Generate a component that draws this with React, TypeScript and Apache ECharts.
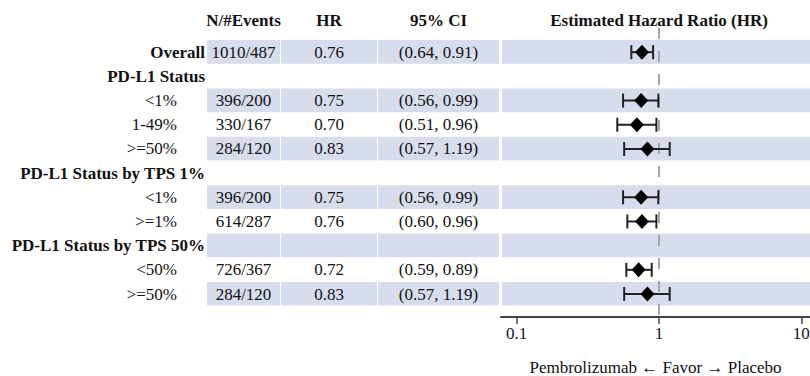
import React, { useEffect, useRef } from 'react';
import * as echarts from 'echarts';

// Forest plot rows (top to bottom)
const rowLabels = [
  'Overall',
  'PD-L1 Status',
  '<1%',
  '1-49%',
  '>=50%',
  'PD-L1 Status by TPS 1%',
  '<1%',
  '>=1%',
  'PD-L1 Status by TPS 50%',
  '<50%',
  '>=50%',
];
const rowIsGroup = [true, true, false, false, false, true, false, false, true, false, false];
const nEvents = ['1010/487', '', '396/200', '330/167', '284/120', '', '396/200', '614/287', '', '726/367', '284/120'];
const hrValues = [0.76, null, 0.75, 0.7, 0.83, null, 0.75, 0.76, null, 0.72, 0.83];
const ciLower = [0.64, null, 0.56, 0.51, 0.57, null, 0.56, 0.6, null, 0.59, 0.57];
const ciUpper = [0.91, null, 0.99, 0.96, 1.19, null, 0.99, 0.96, null, 0.89, 1.19];

const xTicks = [0.1, 1, 10];
const referenceHR = 1;
const columnHeaders = ['N/#Events', 'HR', '95% CI', 'Estimated Hazard Ratio (HR)'];
const axisTitle = 'Pembrolizumab \u2190 Favor \u2192 Placebo';

// Layout
const FONT = 'Liberation Serif';
const FS = 17;
const TABLE_W = 501;
const GRID_TOP = 28;
const GRID_H = 289;
const Y_MIN = -1;
const Y_MAX = 10.95;
const CELLS: [number, number][] = [
  [207, 280],
  [281, 377],
  [378, 499],
];
const GROUP_RIGHT = 205;
const SUB_RIGHT = 177;
const BAND = '#d7ddec';
const INK = '#111';

const fmt = (v: number) => v.toFixed(2);

export default function App() {
  const ref = useRef<HTMLDivElement>(null);

  useEffect(() => {
    if (!ref.current) return;
    const chart = echarts.init(ref.current, undefined, { renderer: 'svg' });

    const tableData = rowLabels.map((_, i) => [0, i]);
    const bandData = rowLabels.map((_, i) => [1, i]);
    const barData: number[][] = [];
    const pointData: number[][] = [];
    rowLabels.forEach((_, i) => {
      if (hrValues[i] != null) {
        barData.push([ciLower[i] as number, ciUpper[i] as number, i]);
        pointData.push([hrValues[i] as number, i]);
      }
    });

    const colMid = CELLS.map(([a, b]) => (a + b) / 2);

    const option: any = {
      animation: false,
      grid: [
        { left: 0, width: TABLE_W, top: GRID_TOP, height: GRID_H, outerBoundsMode: 'none', containLabel: false },
        { left: TABLE_W, right: 0, top: GRID_TOP, height: GRID_H, outerBoundsMode: 'none', containLabel: false },
      ],
      xAxis: [
        { type: 'value', gridIndex: 0, min: 0, max: TABLE_W, show: false },
        {
          type: 'log',
          gridIndex: 1,
          logBase: 10,
          min: 0.0778,
          max: 11.5,
          axisLine: { show: true, onZero: false, lineStyle: { color: '#444', width: 2 } },
          axisTick: { show: true, customValues: xTicks, length: 7, lineStyle: { color: '#444', width: 1.5 } },
          axisLabel: {
            customValues: xTicks,
            formatter: (v: number) => String(v),
            fontFamily: FONT,
            fontSize: FS,
            color: INK,
            margin: 8,
          },
          splitLine: { show: false },
          minorTick: { show: false },
          name: axisTitle,
          nameLocation: 'middle',
          nameGap: 42,
          nameTextStyle: { fontFamily: FONT, fontSize: FS, color: INK },
        },
      ],
      yAxis: [
        { type: 'value', gridIndex: 0, min: Y_MIN, max: Y_MAX, inverse: true, show: false },
        { type: 'value', gridIndex: 1, min: Y_MIN, max: Y_MAX, inverse: true, show: false },
      ],
      graphic: columnHeaders.map((t, i) => ({
        type: 'text',
        x: i < 3 ? colMid[i] : 659,
        y: 20,
        style: {
          text: t,
          align: 'center',
          verticalAlign: 'middle',
          fontFamily: FONT,
          fontSize: FS,
          fontWeight: 'bold',
          fill: INK,
        },
      })),
      series: [
        // Table: shaded cells and text columns
        {
          type: 'custom',
          xAxisIndex: 0,
          yAxisIndex: 0,
          encode: { x: 0, y: 1 },
          data: tableData,
          z: 1,
          renderItem: (params: any, api: any) => {
            const row = api.value(1);
            const cy = api.coord([0, row])[1];
            const h = api.size([0, 1])[1];
            const children: any[] = [];
            if (row % 2 === 0) {
              CELLS.forEach(([a, b]) => {
                const x0 = api.coord([a, row])[0];
                const x1 = api.coord([b, row])[0];
                children.push({
                  type: 'rect',
                  shape: { x: x0, y: cy - h / 2, width: x1 - x0, height: h - 0.5 },
                  style: { fill: BAND },
                });
              });
            }
            const group = rowIsGroup[row];
            const textStyle = (text: string, x: number, align: string, bold: boolean) => ({
              type: 'text',
              style: {
                text,
                x,
                y: cy,
                align,
                verticalAlign: 'middle',
                fontFamily: FONT,
                fontSize: FS,
                fontWeight: bold ? 'bold' : 'normal',
                fill: INK,
              },
            });
            children.push(
              textStyle(rowLabels[row], api.coord([group ? GROUP_RIGHT : SUB_RIGHT, row])[0], 'right', group)
            );
            if (hrValues[row] != null) {
              children.push(textStyle(nEvents[row], api.coord([colMid[0], row])[0], 'center', false));
              children.push(textStyle(fmt(hrValues[row] as number), api.coord([colMid[1], row])[0], 'center', false));
              children.push(
                textStyle(
                  `(${fmt(ciLower[row] as number)}, ${fmt(ciUpper[row] as number)})`,
                  api.coord([colMid[2], row])[0],
                  'center',
                  false
                )
              );
            }
            return { type: 'group', children };
          },
        },
        // Plot panel: row bands
        {
          type: 'custom',
          xAxisIndex: 1,
          yAxisIndex: 1,
          encode: { x: 0, y: 1 },
          data: bandData,
          z: 1,
          renderItem: (params: any, api: any) => {
            const row = api.value(1);
            if (row % 2 !== 0) return { type: 'group', children: [] };
            const cs = params.coordSys;
            const cy = api.coord([1, row])[1];
            const h = api.size([1, 1])[1];
            return {
              type: 'rect',
              shape: { x: cs.x + 1, y: cy - h / 2, width: cs.width - 1, height: h - 0.5 },
              style: { fill: BAND },
            };
          },
        },
        // Confidence intervals with end caps
        {
          type: 'custom',
          xAxisIndex: 1,
          yAxisIndex: 1,
          encode: { x: [0, 1], y: 2 },
          data: barData,
          z: 3,
          renderItem: (params: any, api: any) => {
            const row = api.value(2);
            const p0 = api.coord([api.value(0), row]);
            const p1 = api.coord([api.value(1), row]);
            const cap = 7;
            const st = { stroke: '#222', lineWidth: 2 };
            return {
              type: 'group',
              children: [
                { type: 'line', shape: { x1: p0[0], y1: p0[1], x2: p1[0], y2: p1[1] }, style: st },
                { type: 'line', shape: { x1: p0[0], y1: p0[1] - cap, x2: p0[0], y2: p0[1] + cap }, style: st },
                { type: 'line', shape: { x1: p1[0], y1: p1[1] - cap, x2: p1[0], y2: p1[1] + cap }, style: st },
              ],
            };
          },
        },
        // Point estimates and the null reference line
        {
          type: 'scatter',
          xAxisIndex: 1,
          yAxisIndex: 1,
          data: pointData,
          symbol: 'diamond',
          symbolSize: [14, 15],
          itemStyle: { color: '#000', opacity: 1 },
          z: 4,
          silent: true,
          markLine: {
            silent: true,
            symbol: 'none',
            label: { show: false },
            lineStyle: { color: '#a6a6a6', width: 2, type: [11, 12] },
            data: [{ xAxis: referenceHR }],
            z: 2,
          },
        },
      ],
    };

    chart.setOption(option);
    return () => chart.dispose();
  }, []);

  return (
    <div
      ref={ref}
      style={{ position: 'fixed', left: 0, top: 0, width: 810, height: 376, background: '#fff' }}
    />
  );
}
